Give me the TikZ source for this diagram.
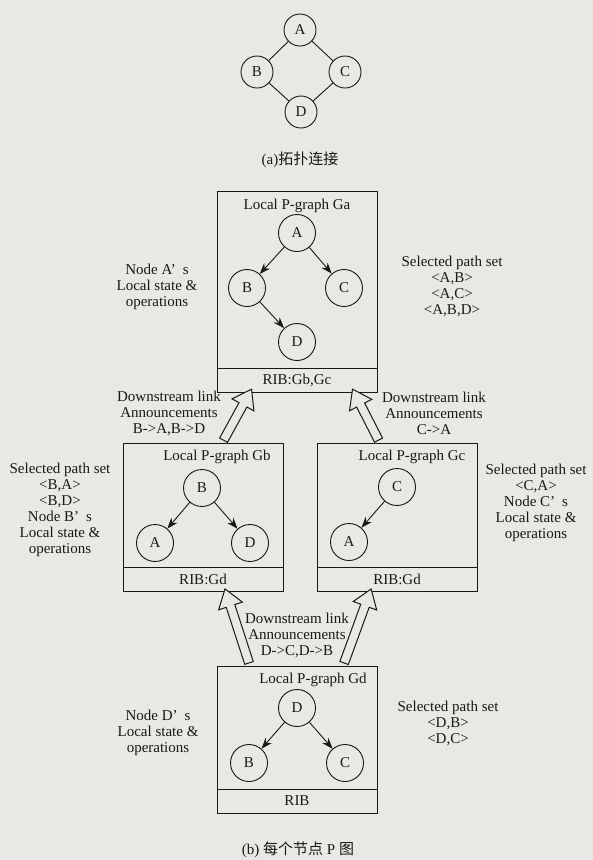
\documentclass[tikz,border=0pt]{standalone}
\usepackage{fontspec}
\setmainfont{Liberation Serif}
\newfontfamily\cjk{Noto Sans CJK SC}
\usetikzlibrary{shapes.arrows,arrows.meta,calc}
\definecolor{paper}{RGB}{234,232,229}
\definecolor{ink}{RGB}{24,24,24}
\tikzset{
  every node/.style={font=\fontsize{15}{16}\selectfont, text=ink},
  vtx/.style={circle, draw=ink, line width=0.9pt, minimum size=37pt, inner sep=0pt},
  topvtx/.style={vtx, minimum size=32pt},
  pbox/.style={draw=ink, line width=1pt, minimum width=160pt, inner sep=0pt, outer sep=0pt},
  ribbox/.style={pbox, minimum height=24pt, anchor=north},
  note/.style={align=center, inner sep=0pt},
  link/.style={draw=ink, line width=0.9pt},
  garrow/.style={draw=ink, line width=0.9pt, -{Stealth[length=11pt,width=8pt]}},
  fat/.style={single arrow, draw=ink, fill=paper, line width=1pt, inner sep=4pt,
    single arrow head extend=8pt, single arrow tip angle=70,
    single arrow head indent=0pt, outer sep=0pt},
}
% hollow announcement arrow between two named coordinates
\newcommand\announce[2]{%
  \path let \p1=(#1), \p2=(#2),
    \n1={atan2(\y2-\y1,\x2-\x1)}, \n2={veclen(\x2-\x1,\y2-\y1)} in
    node[fat, minimum height=\n2, rotate=\n1] at ($(#1)!0.5!(#2)$) {};}
\begin{document}
\begin{tikzpicture}[x=1pt, y=-1pt]
\fill[paper] (0,0) rectangle (593,860);
\useasboundingbox (0,0) rectangle (593,860);

% (a) topology
\node[topvtx] (ta) at (300,30) {A};
\node[topvtx] (tb) at (257,72) {B};
\node[topvtx] (tc) at (345,72) {C};
\node[topvtx] (td) at (301,112) {D};
\draw[link] (ta) -- (tb);
\draw[link] (ta) -- (tc);
\draw[link] (tb) -- (td);
\draw[link] (tc) -- (td);
\node (capa) at (300,160) {(a){\cjk 拓扑连接}};

% node A
\node[pbox, minimum height=177pt] (ga) at (297,279.5) {};
\node[ribbox] (garib) at (ga.south) {RIB:Gb,Gc};
\node (gatitle) at (297,206) {Local P-graph Ga};
\node[vtx] (gaa) at (297,233) {A};
\node[vtx] (gab) at (247,288) {B};
\node[vtx] (gac) at (344,288) {C};
\node[vtx] (gad) at (297,342) {D};
\draw[garrow] (gaa) -- (gab);
\draw[garrow] (gaa) -- (gac);
\draw[garrow] (gab) -- (gad);
\node[note] (galeft) at (157,287) {Node A’\hspace{7pt}s\\Local state \&\\operations};
\node[note] (garight) at (452,286) {Selected path set\\<A,B>\\<A,C>\\<A,B,D>};

% node B
\node[pbox, minimum height=124pt] (gb) at (203,505) {};
\node[ribbox] (gbrib) at (gb.south) {RIB:Gd};
\node (gbtitle) at (217,457) {Local P-graph Gb};
\node[vtx] (gbb) at (202,488) {B};
\node[vtx] (gba) at (155,543) {A};
\node[vtx] (gbd) at (250,543) {D};
\draw[garrow] (gbb) -- (gba);
\draw[garrow] (gbb) -- (gbd);
\node[note] (gbleft) at (60,510) {Selected path set\\<B,A>\\<B,D>\\Node B’\hspace{7pt}s\\Local state \&\\operations};

% node C
\node[pbox, minimum height=124pt] (gc) at (397,505) {};
\node[ribbox] (gcrib) at (gc.south) {RIB:Gd};
\node (gctitle) at (412,457) {Local P-graph Gc};
\node[vtx] (gcc) at (397,487) {C};
\node[vtx] (gca) at (349,542) {A};
\draw[garrow] (gcc) -- (gca);
\node[note] (gcright) at (536,503) {Selected path set\\<C,A>\\Node C’\hspace{7pt}s\\Local state \&\\operations};

% node D
\node[pbox, minimum height=123pt] (gd) at (297,727.5) {};
\node[ribbox] (gdrib) at (gd.south) {RIB};
\node (gdtitle) at (313,680) {Local P-graph Gd};
\node[vtx] (gdd) at (297,708) {D};
\node[vtx] (gdb) at (249,763) {B};
\node[vtx] (gdc) at (345,763) {C};
\draw[garrow] (gdd) -- (gdb);
\draw[garrow] (gdd) -- (gdc);
\node[note] (gdleft) at (158,733) {Node D’\hspace{7pt}s\\Local state \&\\operations};
\node[note] (gdright) at (448,723) {Selected path set\\<D,B>\\<D,C>};

% announcements
\coordinate (u1s) at (222,443); \coordinate (u1t) at (250,392);
\coordinate (u2s) at (380,443); \coordinate (u2t) at (354,392);
\coordinate (l1s) at (250,666); \coordinate (l1t) at (226,592);
\coordinate (l2s) at (343,666); \coordinate (l2t) at (370,592);
\announce{u1s}{u1t}
\announce{u2s}{u2t}
\announce{l1s}{l1t}
\announce{l2s}{l2t}
\node[note] (annb) at (169,413) {Downstream link\\Announcements\\B->A,B->D};
\node[note] (annc) at (434,413) {Downstream link\\Announcements\\C->A};
\node[note] (annd) at (297,635) {Downstream link\\Announcements\\D->C,D->B};

\node (capb) at (298,850) {(b) {\cjk 每个节点} P {\cjk 图}};
\end{tikzpicture}
\end{document}
